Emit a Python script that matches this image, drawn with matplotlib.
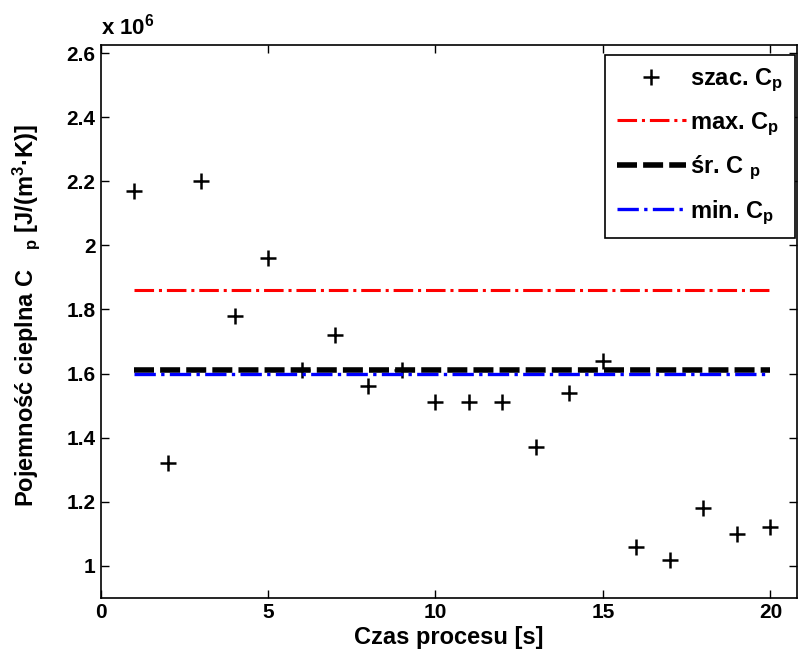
import numpy as np
import matplotlib
matplotlib.use('Agg')
import matplotlib.pyplot as plt

# dane
czas = [1, 2, 3, 4, 5, 6, 7, 8, 9, 10, 11, 12, 13, 14, 15, 16, 17, 18, 19, 20]
cp_szac = [2.17, 1.32, 2.20, 1.78, 1.96, 1.61, 1.72, 1.56, 1.61, 1.51,
           1.51, 1.51, 1.37, 1.54, 1.64, 1.06, 1.02, 1.18, 1.10, 1.12]
cp_max = 1.86
cp_sr = 1.61
cp_min = 1.60
skala = 1e6

plt.rcParams['font.family'] = ['Liberation Sans', 'DejaVu Sans']
plt.rcParams['font.weight'] = 'bold'
plt.rcParams['axes.labelweight'] = 'bold'
plt.rcParams['mathtext.default'] = 'regular'
plt.rcParams['xtick.direction'] = 'in'
plt.rcParams['ytick.direction'] = 'in'

fig = plt.figure(figsize=(7.98, 6.58), dpi=100)
ax = fig.add_axes([0.126, 0.0912, 0.873, 0.8404])

t = np.array(czas)
ax.plot(t, np.array(cp_szac) * skala, '+', color='black', markersize=12, mew=1.8,
        label='szac. C$_p$')
ax.plot([t[0], t[-1]], [cp_max * skala] * 2, '-.', color='red', lw=2.2,
        label='max. C$_p$')
ax.plot([t[0], t[-1]], [cp_sr * skala] * 2, '--', color='black', lw=4,
        dashes=(3.6, 1.1), label='śr. C $_p$')
ax.plot([t[0], t[-1]], [cp_min * skala] * 2, '-.', color='blue', lw=2.4,
        label='min. C$_p$')

ax.set_xlim(0, 20.8)
ax.set_ylim(0.9e6, 2.625e6)
ax.set_xticks([0, 5, 10, 15, 20])
yt = [1.0, 1.2, 1.4, 1.6, 1.8, 2.0, 2.2, 2.4, 2.6]
ax.set_yticks([v * skala for v in yt])
ax.set_yticklabels(['1', '1.2', '1.4', '1.6', '1.8', '2', '2.2', '2.4', '2.6'])
ax.tick_params(labelsize=15, top=True, right=True, length=6, width=1)
for s in ax.spines.values():
    s.set_linewidth(1.2)

fig.text(0.126, 0.94, 'x 10$^{6}$', fontsize=16, ha='left', va='bottom')

ax.set_xlabel('Czas procesu [s]', fontsize=17, labelpad=3)
ax.set_ylabel('Pojemność cieplna C   $_p$ [J/(m$^{3}$·K)]', fontsize=17)
ax.yaxis.set_label_coords(-0.084, 0.51)

leg = ax.legend(loc='upper right', fontsize=17, fancybox=False, framealpha=1,
                edgecolor='black', handlelength=2.9, borderpad=0.5,
                labelspacing=0.68, handletextpad=0.2, borderaxespad=0,
                bbox_to_anchor=(0.997, 0.982))
leg.get_frame().set_linewidth(1.2)

fig.savefig('out.png', dpi=100)
